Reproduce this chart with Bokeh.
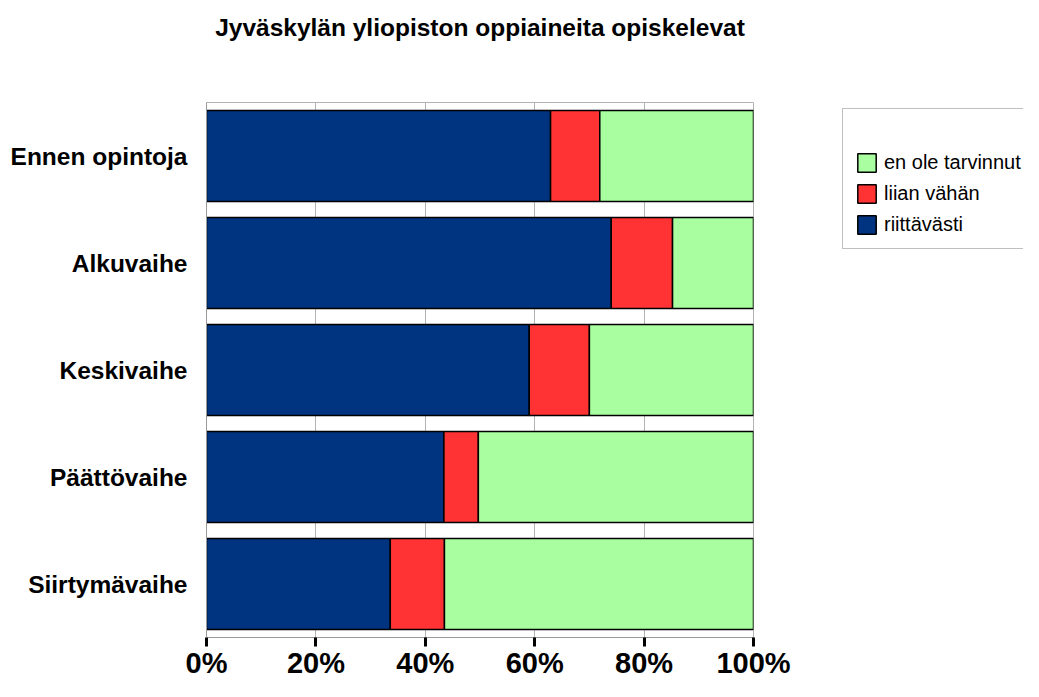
from bokeh.plotting import figure
from bokeh.layouts import row
from bokeh.models import (FactorRange, Range1d, FixedTicker, PrintfTickFormatter,
                          Legend, LegendItem, LinearAxis)
from bokeh.embed import file_html
from bokeh.resources import INLINE

# ---- data ----
categories = ["Ennen opintoja", "Alkuvaihe", "Keskivaihe", "Päättövaihe", "Siirtymävaihe"]
riittavasti = [62.9, 74.0, 59.0, 43.4, 33.6]
liian_vahan = [9.0, 11.2, 11.0, 6.3, 9.9]
en_ole_tarvinnut = [28.1, 14.8, 30.0, 50.3, 56.5]
series_names = ["riittävästi", "liian vähän", "en ole tarvinnut"]
series_colors = ["#003380", "#ff3333", "#a9ffa0"]
x_ticks = [0, 20, 40, 60, 80, 100]
title_text = "Jyväskylän yliopiston oppiaineita opiskelevat"

FONT = "Liberation Sans"

source = dict(cat=categories, s0=riittavasti, s1=liian_vahan, s2=en_ole_tarvinnut)

p = figure(width=830, height=681, output_backend="svg", toolbar_location=None,
           y_range=FactorRange(factors=list(reversed(categories)), range_padding=0),
           x_range=Range1d(0, 100),
           min_border_left=206, min_border_right=77, min_border_top=102, min_border_bottom=44)
p.title.text = ""

renderers = p.hbar_stack(["s0", "s1", "s2"], y="cat", height=0.85, color=series_colors,
                         line_color="black", line_width=1.5, source=source)

# axes
p.xaxis.ticker = FixedTicker(ticks=x_ticks)
p.xaxis.formatter = PrintfTickFormatter(format="%d%%")
p.xaxis.axis_line_color = "#999999"
p.xaxis.major_tick_line_color = "black"
p.xaxis.major_tick_line_width = 3
p.xaxis.major_tick_out = 9
p.xaxis.major_tick_in = 0
p.xaxis.minor_tick_line_color = None
p.xaxis.major_label_standoff = 0
p.xaxis.major_label_text_font = FONT
p.xaxis.major_label_text_font_style = "bold"
p.xaxis.major_label_text_font_size = "29px"
p.xaxis.major_label_text_color = "black"

p.yaxis.axis_line_color = "#999999"
p.yaxis.major_tick_line_color = None
p.yaxis.minor_tick_line_color = None
p.yaxis.major_label_standoff = 13
p.yaxis.major_label_text_font = FONT
p.yaxis.major_label_text_font_style = "bold"
p.yaxis.major_label_text_font_size = "24.5px"
p.yaxis.major_label_text_color = "black"

p.xgrid.ticker = FixedTicker(ticks=x_ticks)
p.xgrid.grid_line_color = "#b3b3b3"
p.xgrid.grid_line_width = 1
p.ygrid.grid_line_color = None
p.outline_line_color = "#b3b3b3"
p.outline_line_width = 1
p.background_fill_color = "white"
p.border_fill_color = "white"

# chart title, carried by a tick-less axis above the frame
tax = LinearAxis(ticker=FixedTicker(ticks=[]), axis_label=title_text,
                 axis_label_standoff=62, axis_label_text_font=FONT,
                 axis_label_text_font_style="bold", axis_label_text_font_size="24.5px",
                 axis_label_text_color="black", axis_line_color=None,
                 major_tick_line_color=None, minor_tick_line_color=None,
                 major_tick_in=0, major_tick_out=0, minor_tick_in=0, minor_tick_out=0,
                 major_label_text_font_size="0px")
p.add_layout(tax, "above")

# legend figure
lg = figure(width=193, height=681, output_backend="svg", toolbar_location=None,
            x_range=Range1d(0, 1), y_range=Range1d(0, 1),
            x_axis_location=None, y_axis_location=None,
            min_border=0, min_border_left=0, min_border_right=0,
            min_border_top=0, min_border_bottom=0)
lg.title.text = ""
lg.grid.grid_line_color = None
lg.outline_line_color = None
lg.background_fill_color = "white"
lg.border_fill_color = "white"

# legend-only glyphs (hidden renderers)
dummy = [lg.hbar(y=[0.5], right=[1], height=0.5, fill_color=c, line_color="black",
                 line_width=1.5, visible=False) for c in series_colors]

items = [LegendItem(label=series_names[i], renderers=[dummy[i]]) for i in (2, 1, 0)]
legend = Legend(items=items, location=(12, 388), title=" ",
                title_text_font_size="20px", title_standoff=7,
                label_text_font=FONT, label_text_font_size="20px", label_text_color="black",
                glyph_width=23, glyph_height=23, label_height=23, label_standoff=6,
                spacing=8, padding=12, margin=0, label_width=200,
                border_line_color="#808080", border_line_width=1.5,
                background_fill_color="white", background_fill_alpha=1.0,
                inactive_fill_alpha=0.0)
lg.add_layout(legend)

open("out.html", "w").write(file_html(row(p, lg), INLINE))
